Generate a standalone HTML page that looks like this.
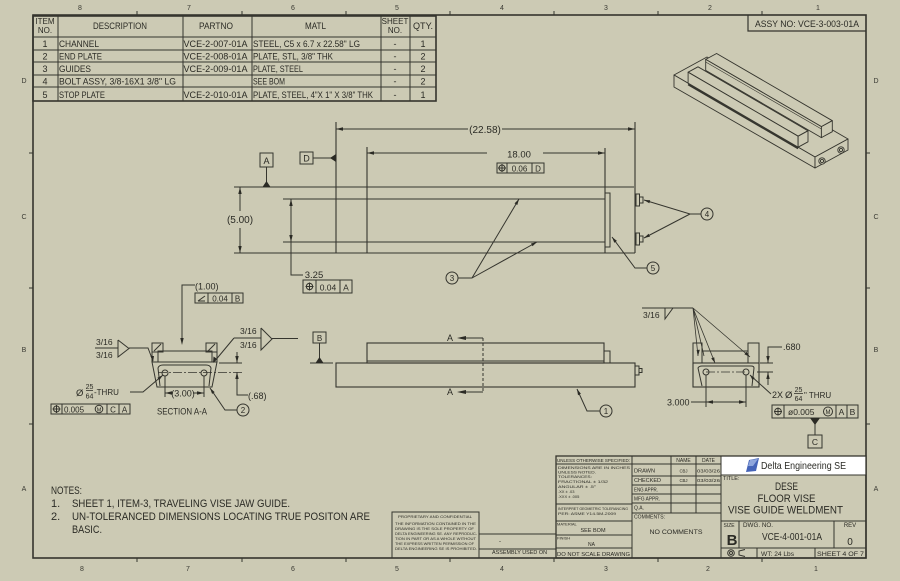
<!DOCTYPE html>
<html><head><meta charset="utf-8"><style>
html,body{margin:0;padding:0;background:#cccab4;}
svg{display:block;font-family:"Liberation Sans",sans-serif;}
</style></head><body>
<svg width="900" height="581" viewBox="0 0 900 581" xmlns="http://www.w3.org/2000/svg">
<rect width="900" height="581" fill="#cccab4"/>

<!-- ===== Border & zones ===== -->
<g fill="none" stroke="#35352e">
<rect x="33" y="15" width="833" height="543" stroke-width="1.6"/>
<path d="M137 11V15M242 11V15M346 11V15M450 11V15M554 11V15M658 11V15M762 11V15
M137 558V562M242 558V562M346 558V562M450 558V562M554 558V562M658 558V562M762 558V562
M29 153H33M29 288H33M29 424H33M866 153H870M866 288H870M866 424H870" stroke-width="1"/>
</g>
<g fill="#3a3a33" font-size="7" text-anchor="middle">
<text x="80" y="10">8</text><text x="189" y="10">7</text><text x="293" y="10">6</text><text x="397" y="10">5</text>
<text x="502" y="10">4</text><text x="606" y="10">3</text><text x="710" y="10">2</text><text x="818" y="10">1</text>
<text x="82" y="571">8</text><text x="188" y="571">7</text><text x="293" y="571">6</text><text x="397" y="571">5</text>
<text x="502" y="571">4</text><text x="606" y="571">3</text><text x="708" y="571">2</text><text x="816" y="571">1</text>
<text x="24" y="83">D</text><text x="24" y="219">C</text><text x="24" y="352">B</text><text x="24" y="491">A</text>
<text x="876" y="83">D</text><text x="876" y="219">C</text><text x="876" y="352">B</text><text x="876" y="491">A</text>
</g>

<!-- ===== BOM table ===== -->
<g fill="none" stroke="#35352e" stroke-width="1">
<rect x="33" y="16" width="403" height="85" stroke-width="1.6"/>
<path d="M58 16V101M183 16V101M252 16V101M381 16V101M410 16V101"/>
<path d="M33 37H436M33 50H436M33 62H436M33 75H436M33 87H436"/>
</g>
<g fill="#2b2b25" font-size="9">
<text x="45" y="24" text-anchor="middle" font-size="8">ITEM</text>
<text x="45" y="33" text-anchor="middle" font-size="8">NO.</text>
<text x="93" y="29" textLength="54" lengthAdjust="spacingAndGlyphs">DESCRIPTION</text>
<text x="199" y="29" textLength="34" lengthAdjust="spacingAndGlyphs">PARTNO</text>
<text x="305" y="29" textLength="21" lengthAdjust="spacingAndGlyphs">MATL</text>
<text x="395" y="24" text-anchor="middle" font-size="8">SHEET</text>
<text x="395" y="33" text-anchor="middle" font-size="8">NO.</text>
<text x="413" y="29" textLength="20" lengthAdjust="spacingAndGlyphs">QTY.</text>

<g text-anchor="middle">
<text x="45" y="47">1</text><text x="45" y="59.5">2</text><text x="45" y="72">3</text><text x="45" y="84.5">4</text><text x="45" y="98">5</text>
<text x="395" y="47">-</text><text x="395" y="59.5">-</text><text x="395" y="72">-</text><text x="395" y="84.5">-</text><text x="395" y="98">-</text>
<text x="423" y="47">1</text><text x="423" y="59.5">2</text><text x="423" y="72">2</text><text x="423" y="84.5">2</text><text x="423" y="98">1</text>
</g>
<text x="59" y="47" textLength="40" lengthAdjust="spacingAndGlyphs">CHANNEL</text>
<text x="59" y="59.5" textLength="43" lengthAdjust="spacingAndGlyphs">END PLATE</text>
<text x="59" y="72" textLength="32" lengthAdjust="spacingAndGlyphs">GUIDES</text>
<text x="59" y="84.5" textLength="117" lengthAdjust="spacingAndGlyphs">BOLT ASSY, 3/8-16X1 3/8" LG</text>
<text x="59" y="98" textLength="46" lengthAdjust="spacingAndGlyphs">STOP PLATE</text>
<text x="183.5" y="47" textLength="64" lengthAdjust="spacingAndGlyphs">VCE-2-007-01A</text>
<text x="183.5" y="59.5" textLength="64" lengthAdjust="spacingAndGlyphs">VCE-2-008-01A</text>
<text x="183.5" y="72" textLength="64" lengthAdjust="spacingAndGlyphs">VCE-2-009-01A</text>
<text x="183.5" y="98" textLength="64" lengthAdjust="spacingAndGlyphs">VCE-2-010-01A</text>
<text x="253" y="47" textLength="107" lengthAdjust="spacingAndGlyphs">STEEL, C5 x 6.7 x 22.58" LG</text>
<text x="253" y="59.5" textLength="80" lengthAdjust="spacingAndGlyphs">PLATE, STL, 3/8" THK</text>
<text x="253" y="72" textLength="50" lengthAdjust="spacingAndGlyphs">PLATE, STEEL</text>
<text x="253" y="84.5" textLength="32" lengthAdjust="spacingAndGlyphs">SEE BOM</text>
<text x="253" y="98" textLength="120" lengthAdjust="spacingAndGlyphs">PLATE, STEEL, 4"X 1" X 3/8" THK</text>
</g>

<!-- ASSY NO box -->
<path d="M748 15V31H866" fill="none" stroke="#35352e" stroke-width="1.2"/>
<text x="755" y="27" font-size="9" fill="#2b2b25" textLength="104" lengthAdjust="spacingAndGlyphs">ASSY NO: VCE-3-003-01A</text>

<!-- ===== Isometric ===== -->
<g stroke="#35352e" stroke-width="0.9" fill="#cccab4" stroke-linejoin="round">
<polygon points="674,75 707,57 848,139 815,157"/>
<polygon points="674,75 815,157 815,168 674,87"/>
<polygon points="815,157 848,139 848,150 815,168"/>
<!-- back rail -->
<polygon points="705.7,59.4 716.6,53.5 832.3,120.7 821.4,126.6"/>
<polygon points="705.7,59.4 821.4,126.6 821.4,137.6 705.7,70.4"/>
<polygon points="821.4,126.6 832.3,120.7 832.3,131.7 821.4,137.6"/>
<!-- front rail -->
<polygon points="688.1,72.2 698,66.8 808,130.8 798.1,136.2"/>
<polygon points="688.1,72.2 798.1,136.2 798.1,147.2 688.1,83.2"/>
<polygon points="798.1,136.2 808,130.8 808,141.8 798.1,147.2"/>
<path d="M688.1 84.5 L798.1 148.5" stroke-width="1.6" fill="none"/>
<path d="M705.7 62 L821.4 129" stroke-width="0.6" fill="none"/>
<circle cx="822" cy="161" r="3.2"/><circle cx="822" cy="161" r="1.6"/>
<circle cx="841" cy="150" r="3.2"/><circle cx="841" cy="150" r="1.6"/>
</g>

<!-- ===== Top view ===== -->
<g fill="none" stroke="#35352e" stroke-width="1">
<path d="M234 187H634M234 253H635M336 122V253M367 147V253M605 148V253M635 122V253M283 199H605M283 242H605" stroke-width="1.1"/>
<rect x="605" y="193" width="5" height="54"/>
<rect x="636" y="194" width="3.5" height="12"/><rect x="639.5" y="197" width="3.5" height="6"/>
<rect x="636" y="233" width="3.5" height="12"/><rect x="639.5" y="236" width="3.5" height="6"/>
<!-- dims -->
<path d="M336 129H468M502 129H635"/>
<path d="M367 153H487M543 153H605"/>
<path d="M240 187V211M240 228V253"/>
<path d="M291 199V275H303"/>
<rect x="497" y="163" width="47" height="10"/><path d="M507 163V173M532 163V173"/>
<rect x="303" y="280" width="49" height="13"/><path d="M316 280V293M340 280V293"/>
<rect x="260" y="153" width="13" height="14"/><path d="M266.5 167V182"/>
<rect x="300" y="152" width="13" height="12"/><path d="M313 158H331"/>
<circle cx="502" cy="168" r="3"/><path d="M502 164V172M498 168H506"/>
<circle cx="309.5" cy="286.5" r="3.2"/><path d="M309.5 282.5V290.5M305.5 286.5H313.5"/>
<!-- balloons -->
<circle cx="452" cy="278" r="6"/><path d="M458 278H472L519 199M472 278L537 242"/>
<circle cx="707" cy="214" r="6"/><path d="M701 214H690L644 200M690 214L644 238"/>
<circle cx="653" cy="268" r="6"/><path d="M647 268H635L612 237"/>
</g>
<g fill="#2b2b25">
<polygon points="336,129 343,127.3 343,130.7"/><polygon points="635,129 628,127.3 628,130.7"/>
<polygon points="367,153 374,151.3 374,154.7"/><polygon points="605,153 598,151.3 598,154.7"/>
<polygon points="240,187 238.3,194 241.7,194"/><polygon points="240,253 238.3,246 241.7,246"/>
<polygon points="291,199 289.3,206 292.7,206"/><polygon points="291,242 289.3,235 292.7,235"/>
<polygon points="262.5,187 270.5,187 266.5,181"/>
<polygon points="336,154 336,162 330,158"/>
<polygon points="519,199 517.3,205 514.5,203.4"/><polygon points="537,242 532.5,246.3 531,243.5"/>
<polygon points="644,200 650.2,200.2 649.3,203.3"/><polygon points="644,238 650,236.6 648.6,233.8"/>
<polygon points="612,237 616.9,240.9 614.3,242.8"/>
</g>
<g fill="#2b2b25" font-size="10" text-anchor="middle">
<text x="485" y="133">(22.58)</text>
<text x="519" y="157.5" font-size="9.5">18.00</text>
<text x="519.5" y="171.5" font-size="8">0.06</text><text x="538" y="171.5" font-size="8">D</text>
<text x="240" y="223">(5.00)</text>
<text x="314" y="278" font-size="9.5">3.25</text>
<text x="328" y="290.5" font-size="8.5">0.04</text><text x="346" y="290.5" font-size="8.5">A</text>
<text x="266.5" y="164" font-size="9">A</text>
<text x="306.5" y="161.5" font-size="9">D</text>
<text x="452" y="281" font-size="8">3</text>
<text x="707" y="217" font-size="8">4</text>
<text x="653" y="271" font-size="8">5</text>
</g>

<!-- ===== Front view ===== -->
<g fill="none" stroke="#35352e" stroke-width="1">
<rect x="313" y="332" width="13" height="11"/><path d="M319.5 343V358M310 363H333"/>
<rect x="336" y="363" width="299" height="24" stroke-width="1.1"/>
<rect x="367" y="343" width="237" height="20" stroke-width="1.1"/><path d="M367 361H604"/>
<rect x="604" y="351" width="6" height="12"/>
<rect x="635" y="366" width="4" height="9"/><rect x="639" y="368.5" width="3" height="4"/>
<path d="M483 338V392" stroke-dasharray="3 2"/>
<path d="M483 338H464M483 392H464"/>
<circle cx="606" cy="411" r="6"/><path d="M600 411H587L577 389"/>
</g>
<g fill="#2b2b25">
<polygon points="315.5,363 323.5,363 319.5,357"/>
<polygon points="457,338 466,336 466,340"/><polygon points="457,392 466,390 466,394"/>
<polygon points="577,389 580.9,393.8 578,395.2"/>
</g>
<g fill="#2b2b25" font-size="9" text-anchor="middle">
<text x="319.5" y="341" font-size="8">B</text>
<text x="450" y="341">A</text><text x="450" y="395">A</text>
<text x="606" y="414" font-size="8">1</text>
</g>

<!-- ===== Section A-A (left) ===== -->
<g fill="none" stroke="#35352e" stroke-width="1">
<path d="M182 338V285H195"/>
<rect x="195" y="293" width="48" height="10"/><path d="M208 293V303M232 293V303"/>
<path d="M198 301L205 301M198 301L205 296"/>
<!-- shape -->
<rect x="152" y="343" width="11" height="9"/><path d="M154 351L161 344"/>
<rect x="206" y="343" width="11" height="9"/><path d="M208 351L215 344"/>
<rect x="158" y="351" width="54" height="11"/>
<path d="M152 352V362M217 352V362"/>
<polygon points="152,362 217,362 212,387 157,387"/>
<path d="M160 386L158 368Q159 365 163 365H206Q210 365 211 368L209 386"/>
<circle cx="165" cy="373" r="3"/><circle cx="204" cy="373" r="3"/>
<path d="M158 372.5H242" stroke-width="0.7" stroke-dasharray="9 2 2 2"/>
<path d="M219 363H242"/>
<path d="M237 352V363M237 372V395H248"/>
<path d="M165 376V397M204 376V397M165 393H173M193 393H204"/>
<path d="M130 392H143L163 375"/>
<rect x="51" y="404" width="79" height="10"/><path d="M62 404V414M107 404V414M119 404V414"/>
<circle cx="56.5" cy="409" r="3"/><path d="M56.5 405V413M52.5 409H60.5"/>
<circle cx="99" cy="409" r="3.8"/>
<circle cx="243" cy="410" r="6"/><path d="M237 410H225L210 388"/>
<!-- welds -->
<path d="M95 348H118M118 340V357L129 348.5L118 340M129 348H148L153 361"/>
<path d="M234 338H261M261 328V350L272 339L261 328M272 338.5H298M234 338L214 362"/>
<path d="M86 390.5H93" stroke-width="0.8"/>
</g>
<g fill="#2b2b25">
<polygon points="182,345 180.3,338 183.7,338"/>
<polygon points="237,363 235.3,356 238.7,356"/><polygon points="237,372 235.3,379 238.7,379"/>
<polygon points="165,393 172,391.3 172,394.7"/><polygon points="204,393 197,391.3 197,394.7"/>
<polygon points="163,375 159.4,380.1 157.4,377.7"/>
<polygon points="210,388 214.7,392.1 212.1,393.9"/>
<polygon points="153,362 150.5,356 154,356"/>
<polygon points="213,363 213.5,356.5 216.5,358.5"/>
</g>
<g fill="#2b2b25" font-size="9">
<text x="195" y="289.5">(1.00)</text>
<text x="220" y="301.5" text-anchor="middle" font-size="8">0.04</text>
<text x="237.5" y="301.5" text-anchor="middle" font-size="8">B</text>
<text x="248" y="399">(.68)</text>
<text x="183" y="396.5" text-anchor="middle">(3.00)</text>
<text x="76" y="396" font-size="9.5">Ø</text>
<text x="89.5" y="389" font-size="7" text-anchor="middle">25</text>
<text x="89.5" y="398.5" font-size="7" text-anchor="middle">64</text>
<text x="94" y="395" font-size="8">-THRU</text>
<text x="64" y="412.5" font-size="8">0.005</text>
<text x="99" y="411.5" font-size="5.5" text-anchor="middle">M</text>
<text x="113" y="412.5" font-size="8" text-anchor="middle">C</text>
<text x="124.5" y="412.5" font-size="8" text-anchor="middle">A</text>
<text x="182" y="414.5" text-anchor="middle" textLength="50" lengthAdjust="spacingAndGlyphs">SECTION A-A</text>
<text x="243" y="413" font-size="8" text-anchor="middle">2</text>
<text x="96" y="345" font-size="8.5">3/16</text>
<text x="96" y="358" font-size="8.5">3/16</text>
<text x="240" y="334" font-size="8.5">3/16</text>
<text x="240" y="348" font-size="8.5">3/16</text>
</g>

<!-- ===== Right view ===== -->
<g fill="none" stroke="#35352e" stroke-width="1">
<path d="M642 308H693M665 308V319L673 308"/>
<path d="M693 308L698 356M693 308L704 356M693 308L715 363M693 308L750 357" stroke-width="0.8"/>
<rect x="693" y="343" width="9" height="20"/><rect x="748" y="343" width="11" height="20"/>
<path d="M702 351H748"/>
<rect x="693" y="363" width="66" height="24" stroke-width="1.1"/>
<path d="M702 386L698 368Q699 366 702 366H751Q754 366 754 368L752 386"/>
<circle cx="706" cy="372" r="3"/><circle cx="746" cy="372" r="3"/>
<path d="M706 372H746" stroke-width="0.7" stroke-dasharray="9 2 2 2"/>
<path d="M760 363H773M757 372H773"/>
<path d="M782 347H768V363M768 372V385"/>
<path d="M706 375V407M746 375V407M691 402H746"/>
<path d="M771 394L750 375"/>
<rect x="772" y="405" width="86" height="13"/><path d="M784 405V418M836 405V418M847 405V418"/>
<circle cx="778" cy="411.5" r="3.3"/><path d="M778 407.5V415.5M774 411.5H782"/>
<circle cx="828" cy="411.5" r="4.5"/>
<path d="M815 424V435"/><rect x="808" y="435" width="14" height="13"/>
</g>
<g fill="#2b2b25">
<polygon points="768,363 766.3,356 769.7,356"/><polygon points="768,372 766.3,379 769.7,379"/>
<polygon points="706,402 713,400.3 713,403.7"/><polygon points="746,402 739,400.3 739,403.7"/>
<polygon points="750,375 752.6,380.3 754.6,377.9"/>
<polygon points="810,418 820,418 815,425"/>
<polygon points="698,356 696.6,350 699.8,349.8"/>
<polygon points="715,363 711.2,358.4 714.2,357.2"/>
<polygon points="750,357 744.4,354.2 746.4,351.7"/>
</g>
<g fill="#2b2b25" font-size="9">
<text x="643" y="318" font-size="8.5">3/16</text>
<text x="783" y="350">.680</text>
<text x="667" y="405.5">3.000</text>
<text x="772" y="398">2X</text>
<text x="785" y="398" font-size="9.5">Ø</text>
<text x="798.5" y="392" font-size="7" text-anchor="middle">25</text>
<path d="M794 393.5H803" stroke="#35352e" stroke-width="0.8"/>
<text x="798.5" y="401" font-size="7" text-anchor="middle">64</text>
<text x="804" y="398" font-size="8">" THRU</text>
<text x="788" y="415" font-size="8.5">ø0.005</text>
<text x="828" y="414" font-size="6" text-anchor="middle">M</text>
<text x="841.5" y="415" font-size="8.5" text-anchor="middle">A</text>
<text x="852.5" y="415" font-size="8.5" text-anchor="middle">B</text>
<text x="815" y="445" font-size="8.5" text-anchor="middle">C</text>
</g>

<!-- ===== Notes ===== -->
<g fill="#2b2b25" font-size="11">
<text x="51" y="494" textLength="31" lengthAdjust="spacingAndGlyphs">NOTES:</text>
<text x="51" y="507">1.</text>
<text x="72" y="507" textLength="218" lengthAdjust="spacingAndGlyphs">SHEET 1, ITEM-3, TRAVELING VISE JAW GUIDE.</text>
<text x="51" y="520">2.</text>
<text x="72" y="520" textLength="298" lengthAdjust="spacingAndGlyphs">UN-TOLERANCED DIMENSIONS LOCATING TRUE POSITON ARE</text>
<text x="72" y="533" textLength="30" lengthAdjust="spacingAndGlyphs">BASIC.</text>
</g>

<!-- ===== Proprietary & used on ===== -->
<g fill="none" stroke="#35352e" stroke-width="1">
<rect x="392" y="512" width="87" height="46"/>
<path d="M479 534H556M479 549H556"/>
</g>
<g fill="#2b2b25" font-size="3.8">
<text x="398" y="518" textLength="74" lengthAdjust="spacingAndGlyphs">PROPRIETARY AND CONFIDENTIAL</text>
<text x="395" y="525" textLength="81" lengthAdjust="spacingAndGlyphs">THE INFORMATION CONTAINED IN THE</text>
<text x="395" y="530" textLength="79" lengthAdjust="spacingAndGlyphs">DRAWING IS THE SOLE PROPERTY OF</text>
<text x="395" y="535" textLength="82" lengthAdjust="spacingAndGlyphs">DELTA ENGINEERING SE. ANY REPRODUC-</text>
<text x="395" y="540" textLength="81" lengthAdjust="spacingAndGlyphs">TION IN PART OR AS A WHOLE WITHOUT</text>
<text x="395" y="545" textLength="79" lengthAdjust="spacingAndGlyphs">THE EXPRESS WRITTEN PERMISSION OF</text>
<text x="395" y="550" textLength="82" lengthAdjust="spacingAndGlyphs">DELTA ENGINEERING SE IS PROHIBITED.</text>
<text x="499" y="543" font-size="6">-</text>
<text x="492" y="554" font-size="5.5" textLength="55" lengthAdjust="spacingAndGlyphs">ASSEMBLY USED ON</text>
</g>

<!-- ===== Title block ===== -->
<rect x="721" y="456" width="145" height="19" fill="#ffffff"/>
<g fill="none" stroke="#35352e" stroke-width="1">
<rect x="556" y="456" width="310" height="102" stroke-width="1.3"/>
<path d="M632 456V558M671 456V513M696 456V513M721 456V558"/>
<path d="M556 464H721M556 504H632M556 521H632M556 535H632M556 548H632"/>
<path d="M632 476H721M632 485H721M632 494H721M632 503H721M632 513H721"/>
<path d="M721 475H866M721 521H866M721 548H866M739 521V548M834 521V548M757 548V558M815 548V558"/>
<circle cx="731" cy="553" r="3.3"/><circle cx="731" cy="553" r="1.5"/>
<path d="M745 549.5L739 551V555L745 556.5"/>
</g>
<polygon points="746,472 749,460 759,458 756,471" fill="#4564b8"/>
<polygon points="748,466 750,460 758,459 753,466" fill="#8fa6dc"/>
<g fill="#2b2b25">
<text x="557" y="462" font-size="4.3" textLength="73" lengthAdjust="spacingAndGlyphs">UNLESS OTHERWISE SPECIFIED:</text>
<g font-size="4">
<text x="558" y="469" textLength="72" lengthAdjust="spacingAndGlyphs">DIMENSIONS ARE IN INCHES</text>
<text x="558" y="473.5" textLength="38" lengthAdjust="spacingAndGlyphs">UNLESS NOTED.</text>
<text x="558" y="478" textLength="34" lengthAdjust="spacingAndGlyphs">TOLERANCES:</text>
<text x="558" y="483" textLength="50" lengthAdjust="spacingAndGlyphs">FRACTIONAL ± 1/32</text>
<text x="558" y="488" textLength="38" lengthAdjust="spacingAndGlyphs">ANGULAR ± .5°</text>
<text x="558" y="493">.XX ± .03</text>
<text x="558" y="498">.XXX ± .005</text>
<text x="558" y="510" textLength="70" lengthAdjust="spacingAndGlyphs">INTERPRET GEOMETRIC TOLERANCING</text>
<text x="558" y="515" textLength="58" lengthAdjust="spacingAndGlyphs">PER: ASME Y14.5M-2009</text>
<text x="557" y="525.5">MATERIAL</text>
<text x="557" y="539.5">FINISH</text>
</g>
<text x="593" y="532" font-size="5.5" text-anchor="middle">SEE BOM</text>
<text x="588" y="546" font-size="5">NA</text>
<text x="557" y="556" font-size="5.3" textLength="73" lengthAdjust="spacingAndGlyphs">DO NOT SCALE DRAWING</text>
<g font-size="5">
<text x="683.5" y="462" text-anchor="middle">NAME</text>
<text x="708.5" y="462" text-anchor="middle">DATE</text>
<text x="634" y="472.5" textLength="21" lengthAdjust="spacingAndGlyphs">DRAWN</text>
<text x="634" y="482" textLength="27" lengthAdjust="spacingAndGlyphs">CHECKED</text>
<text x="634" y="491.5" textLength="24" lengthAdjust="spacingAndGlyphs">ENG APPR.</text>
<text x="634" y="500.5" textLength="26" lengthAdjust="spacingAndGlyphs">MFG APPR.</text>
<text x="634" y="509.5">Q.A.</text>
<text x="634" y="518.5" textLength="31" lengthAdjust="spacingAndGlyphs">COMMENTS:</text>
<text x="683.5" y="472.5" text-anchor="middle" font-size="4.3">CBJ</text>
<text x="683.5" y="482" text-anchor="middle" font-size="4.3">CBJ</text>
<text x="697" y="472.5" font-size="4.3" textLength="23" lengthAdjust="spacingAndGlyphs">03/03/26</text>
<text x="697" y="482" font-size="4.3" textLength="23" lengthAdjust="spacingAndGlyphs">03/03/26</text>
</g>
<text x="676" y="534" font-size="6.5" text-anchor="middle" textLength="53" lengthAdjust="spacingAndGlyphs">NO COMMENTS</text>
<text x="761" y="469" font-size="10.5" textLength="85" lengthAdjust="spacingAndGlyphs">Delta Engineering SE</text>
<text x="723" y="480" font-size="5.5">TITLE:</text>
<text x="786.5" y="490" font-size="11" text-anchor="middle" textLength="23" lengthAdjust="spacingAndGlyphs">DESE</text>
<text x="786.5" y="502" font-size="11" text-anchor="middle" textLength="58" lengthAdjust="spacingAndGlyphs">FLOOR VISE</text>
<text x="785.5" y="513.5" font-size="11" text-anchor="middle" textLength="115" lengthAdjust="spacingAndGlyphs">VISE GUIDE WELDMENT</text>
<text x="723.5" y="527" font-size="5">SIZE</text>
<text x="732" y="545" font-size="15" font-weight="bold" text-anchor="middle">B</text>
<text x="743" y="527" font-size="6" textLength="30" lengthAdjust="spacingAndGlyphs">DWG. NO.</text>
<text x="792" y="540" font-size="10" text-anchor="middle" textLength="60" lengthAdjust="spacingAndGlyphs">VCE-4-001-01A</text>
<text x="850" y="527" font-size="6" text-anchor="middle">REV</text>
<text x="850" y="545" font-size="10" text-anchor="middle">0</text>
<text x="761" y="556" font-size="6.3" textLength="33" lengthAdjust="spacingAndGlyphs">WT: 24 Lbs</text>
<text x="817" y="556" font-size="6.3" textLength="47" lengthAdjust="spacingAndGlyphs">SHEET 4 OF 7</text>
</g>
</svg>
</body></html>
